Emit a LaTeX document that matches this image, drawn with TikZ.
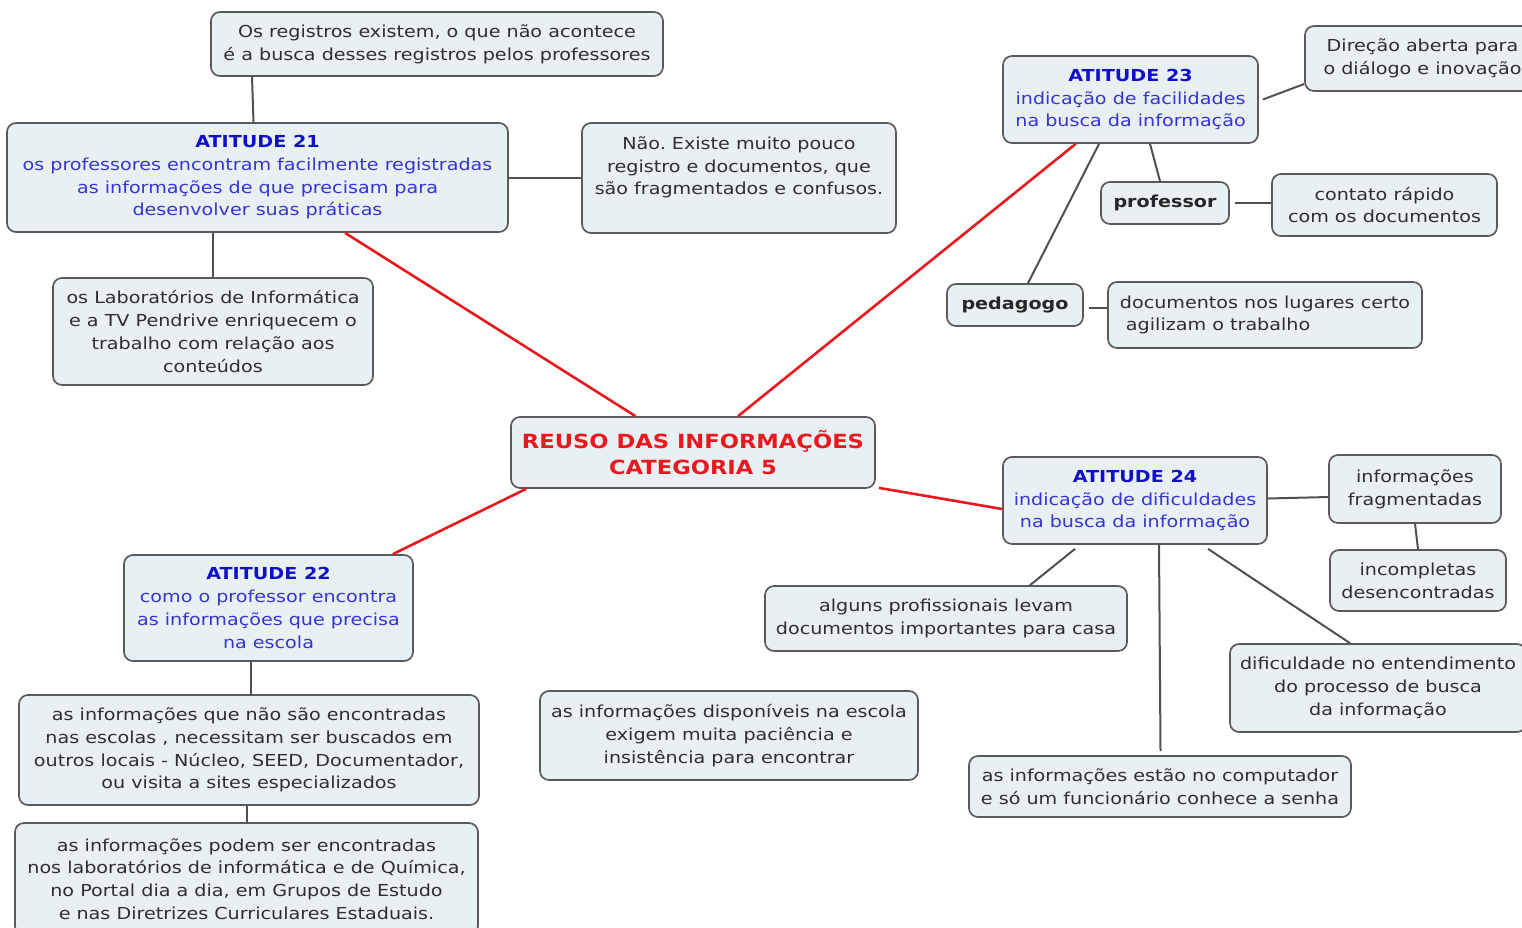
\documentclass[tikz,border=0pt]{standalone}
\usepackage{fontspec}
\setmainfont{DejaVu Sans}[FakeStretch=1.16]
\usetikzlibrary{calc}
\frenchspacing

\definecolor{boxfill}{HTML}{E9F0F3}
\definecolor{boxline}{HTML}{5A5A5A}
\definecolor{bodytext}{HTML}{2E2E2E}
\definecolor{titleblue}{HTML}{1010C8}
\definecolor{subblue}{HTML}{3535D4}
\definecolor{linkgray}{HTML}{505050}
\definecolor{mainred}{HTML}{E8191E}

\newcommand{\bodyfont}{\fontsize{16.5}{22.7}\selectfont}
\newcommand{\hubfont}{\fontsize{19.5}{26}\selectfont\bfseries}

\tikzset{
  box/.style={draw=boxline, fill=boxfill, rounded corners=9pt, line width=1.7pt,
    inner sep=0pt, align=center, font=\bodyfont, text=bodytext},
  attbox/.style={box, text=subblue},
  hubbox/.style={box, font=\hubfont, text=mainred},
  keybox/.style={box, font=\bodyfont\bfseries, text=black!85},
  link/.style={draw=linkgray, line width=2pt},
  redlink/.style={draw=mainred, line width=2.6pt}
}
\newcommand{\atttitle}[1]{{\color{titleblue}\bfseries #1}}

\begin{document}
\begin{tikzpicture}[x=1pt,y=-1pt]
\useasboundingbox (0,0) rectangle (1522,927);

% central concept
\node[hubbox, minimum width=364pt, minimum height=71pt] (cen) at (693,452.5)
  {REUSO DAS INFORMAÇÕES\\CATEGORIA 5};

% ATITUDE 21 branch
\node[attbox, minimum width=501pt, minimum height=109pt] (a21) at (257.5,177.5)
  {\atttitle{ATITUDE 21}\\os professores encontram facilmente registradas\\as informações de que precisam para\\desenvolver suas práticas};
\node[box, minimum width=452pt, minimum height=64pt] (t1) at (437,44)
  {Os registros existem, o que não acontece\\é a busca desses registros pelos professores};
\node[box, minimum width=314pt, minimum height=110pt] (n1) at (739,178)
  {Não. Existe muito pouco\\registro e documentos, que\\são fragmentados e confusos.\\[2pt]\mbox{}};
\node[box, minimum width=320pt, minimum height=107pt] (l1) at (213,331.5)
  {os Laboratórios de Informática\\e a TV Pendrive enriquecem o\\trabalho com relação aos\\conteúdos};

% ATITUDE 23 branch
\node[attbox, minimum width=255pt, minimum height=87pt] (a23) at (1130.5,99.5)
  {\atttitle{ATITUDE 23}\\indicação de facilidades\\na busca da informação};
\node[box, minimum width=235pt, minimum height=65pt] (d1) at (1422.5,58.5)
  {Direção aberta para\\o diálogo e inovação};
\node[keybox, minimum width=128pt, minimum height=42pt] (prof) at (1165,203) {professor};
\node[box, minimum width=225pt, minimum height=62pt] (cont) at (1384.5,205)
  {contato rápido\\com os documentos};
\node[keybox, minimum width=136pt, minimum height=42pt] (ped) at (1015,305) {pedagogo};
\node[box, align=left, minimum width=314pt, minimum height=66pt] (docs) at (1265,315)
  {documentos nos lugares certo\\\ agilizam o trabalho};

% ATITUDE 24 branch
\node[attbox, minimum width=264pt, minimum height=87pt] (a24) at (1135,500.5)
  {\atttitle{ATITUDE 24}\\indicação de dificuldades\\na busca da informação};
\node[box, minimum width=172pt, minimum height=68pt] (frag) at (1415,489)
  {informações\\fragmentadas};
\node[box, minimum width=176pt, minimum height=61pt] (inc) at (1418,580.5)
  {incompletas\\desencontradas};
\node[box, minimum width=296pt, minimum height=88pt] (dif) at (1378,688)
  {dificuldade no entendimento\\do processo de busca\\da informação};
\node[box, minimum width=382pt, minimum height=61pt] (comp) at (1160,786.5)
  {as informações estão no computador\\e só um funcionário conhece a senha};
\node[box, minimum width=362pt, minimum height=65pt] (alg) at (946,618.5)
  {alguns profissionais levam\\documentos importantes para casa};

% standalone note
\node[box, minimum width=378pt, minimum height=89pt] (disp) at (729,735.5)
  {as informações disponíveis na escola\\exigem muita paciência e\\insistência para encontrar};

% ATITUDE 22 branch
\node[attbox, minimum width=289pt, minimum height=106pt] (a22) at (268.5,608)
  {\atttitle{ATITUDE 22}\\como o professor encontra\\as informações que precisa\\na escola};
\node[box, minimum width=460pt, minimum height=110pt] (b1) at (249,750)
  {as informações que não são encontradas\\nas escolas , necessitam ser buscados em\\outros locais - Núcleo, SEED, Documentador,\\ou visita a sites especializados};
\node[box, minimum width=463pt, minimum height=112pt] (b2) at (246.5,879)
  {as informações podem ser encontradas\\nos laboratórios de informática e de Química,\\no Portal dia a dia, em Grupos de Estudo\\e nas Diretrizes Curriculares Estaduais.};

% red links from the central concept
\draw[redlink] (a21) -- (cen);
\draw[redlink] (cen) -- (a23);
\draw[redlink] ([xshift=16pt]cen.south west) -- ([xshift=-21pt]a22.north east);
\draw[redlink] ([xshift=3pt,yshift=1pt]cen.south east) -- ([yshift=-8.5pt]a24.west);

% ATITUDE 21 links
\draw[link] ([xshift=-185pt]t1.south) -- ([xshift=-4pt]a21.north);
\draw[link] (a21.east) -- (a21.east -| n1.west);
\draw[link] (l1.north |- a21.south) -- (l1.north);

% ATITUDE 23 links
\draw[link] ([xshift=4pt]a23.east) -- ([yshift=-25.5pt]d1.west);
\draw[link] ([xshift=19.5pt]a23.south) -- ([xshift=-5pt]prof.north);
\draw[link] ([xshift=-31.5pt]a23.south) -- ([xshift=13pt]ped.north);
\draw[link] ([xshift=5pt]prof.east) -- (prof.east -| cont.west);
\draw[link] ([xshift=5pt,yshift=-3pt]ped.east) -- ([yshift=-3pt]ped.east -| docs.west);

% ATITUDE 24 links
\draw[link] ([yshift=2pt]a24.east) -- ([yshift=-8pt]frag.west);
\draw[link] (frag.south) -- (inc.north);
\draw[link] ([xshift=-60pt,yshift=-4pt]a24.south) -- ([xshift=84pt]alg.north);
\draw[link] ([xshift=24pt]a24.south) -- ([xshift=0.5pt,yshift=4pt]comp.north);
\draw[link] ([xshift=73pt,yshift=-4pt]a24.south) -- ([xshift=-28pt]dif.north);

% ATITUDE 22 links
\draw[link] ([xshift=-17.5pt]a22.south) -- ([xshift=2pt]b1.north);
\draw[link] ([xshift=-2pt]b1.south) -- ([xshift=0.5pt]b2.north);
\end{tikzpicture}
\end{document}
